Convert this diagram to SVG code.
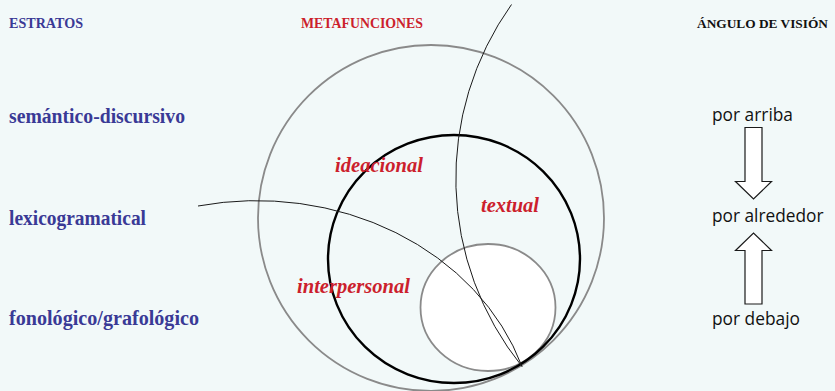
<svg xmlns="http://www.w3.org/2000/svg" width="835" height="391" viewBox="0 0 835 391">
  <style>
    .hdr { font-family: "Liberation Serif", "Times New Roman", serif; font-weight: bold; font-size: 15px; }
    .stratum { font-family: "Liberation Serif", "Times New Roman", serif; font-weight: bold; font-size: 20px; fill: #3a3a96; }
    .meta { font-family: "Liberation Serif", "Times New Roman", serif; font-weight: bold; font-style: italic; font-size: 20px; fill: #cc1f2d; }
    .view { font-family: "Open Sans", "Liberation Sans", sans-serif; font-size: 17.5px; fill: #111; }
    .gray { fill: none; stroke: #8a8a8a; stroke-width: 1.8; }
    .thin { fill: none; stroke: #1a1a1a; stroke-width: 1; }
    .block { fill: #ffffff; stroke: #1a1a1a; stroke-width: 1.2; stroke-linejoin: miter; }
  </style>
  <rect x="0" y="0" width="835" height="391" fill="#f2f9f9"/>

  <g id="headers">
    <text class="hdr" x="9" y="28" fill="#3a3a96" textLength="74" lengthAdjust="spacingAndGlyphs">ESTRATOS</text>
    <text class="hdr" x="301" y="28" fill="#cc1f2d" textLength="122" lengthAdjust="spacingAndGlyphs">METAFUNCIONES</text>
    <text class="hdr" x="697" y="28" fill="#111" style="font-size:13.5px" textLength="131" lengthAdjust="spacingAndGlyphs">ÁNGULO DE VISIÓN</text>
  </g>

  <g id="strata">
    <text class="stratum" x="9" y="123" textLength="176" lengthAdjust="spacingAndGlyphs">semántico-discursivo</text>
    <text class="stratum" x="9" y="225" textLength="137" lengthAdjust="spacingAndGlyphs">lexicogramatical</text>
    <text class="stratum" x="9" y="325" textLength="190" lengthAdjust="spacingAndGlyphs">fonológico/grafológico</text>
  </g>

  <g id="circles">
    <circle id="outer-circle" class="gray" cx="431" cy="218" r="173"/>
    <ellipse id="inner-white" cx="488" cy="307.5" rx="67.5" ry="63.5" fill="#ffffff" stroke="#8a8a8a" stroke-width="1.8"/>
    <ellipse id="black-circle" cx="454" cy="259" rx="126" ry="124" fill="none" stroke="#000" stroke-width="2.4"/>
    <path id="arc-vertical" class="thin" d="M511.5,4.5 A300,300 0 0 0 522,366.5"/>
    <path id="arc-horizontal" class="thin" d="M198,206 A279,240 0 0 1 522,366.5"/>
  </g>

  <g id="metafunctions">
    <text class="meta" x="335" y="172" textLength="88" lengthAdjust="spacingAndGlyphs">ideacional</text>
    <text class="meta" x="481" y="212" textLength="58" lengthAdjust="spacingAndGlyphs">textual</text>
    <text class="meta" x="297" y="293" textLength="113" lengthAdjust="spacingAndGlyphs">interpersonal</text>
  </g>

  <g id="view-above">
    <text class="view" x="712" y="121" textLength="81" lengthAdjust="spacingAndGlyphs">por arriba</text>
  </g>
  <g id="view-around">
    <text class="view" x="712" y="222" textLength="111.5" lengthAdjust="spacingAndGlyphs">por alrededor</text>
  </g>
  <g id="view-below">
    <text class="view" x="712" y="325" textLength="88" lengthAdjust="spacingAndGlyphs">por debajo</text>
  </g>

  <g id="connectors">
    <polygon class="block" points="745,127.5 762,127.5 762,181.5 771.5,181.5 753.5,199 735.5,181.5 745,181.5"/>
    <polygon class="block" points="745,304 762,304 762,250.5 771.5,250.5 753.5,233 735.5,250.5 745,250.5"/>
  </g>
</svg>
